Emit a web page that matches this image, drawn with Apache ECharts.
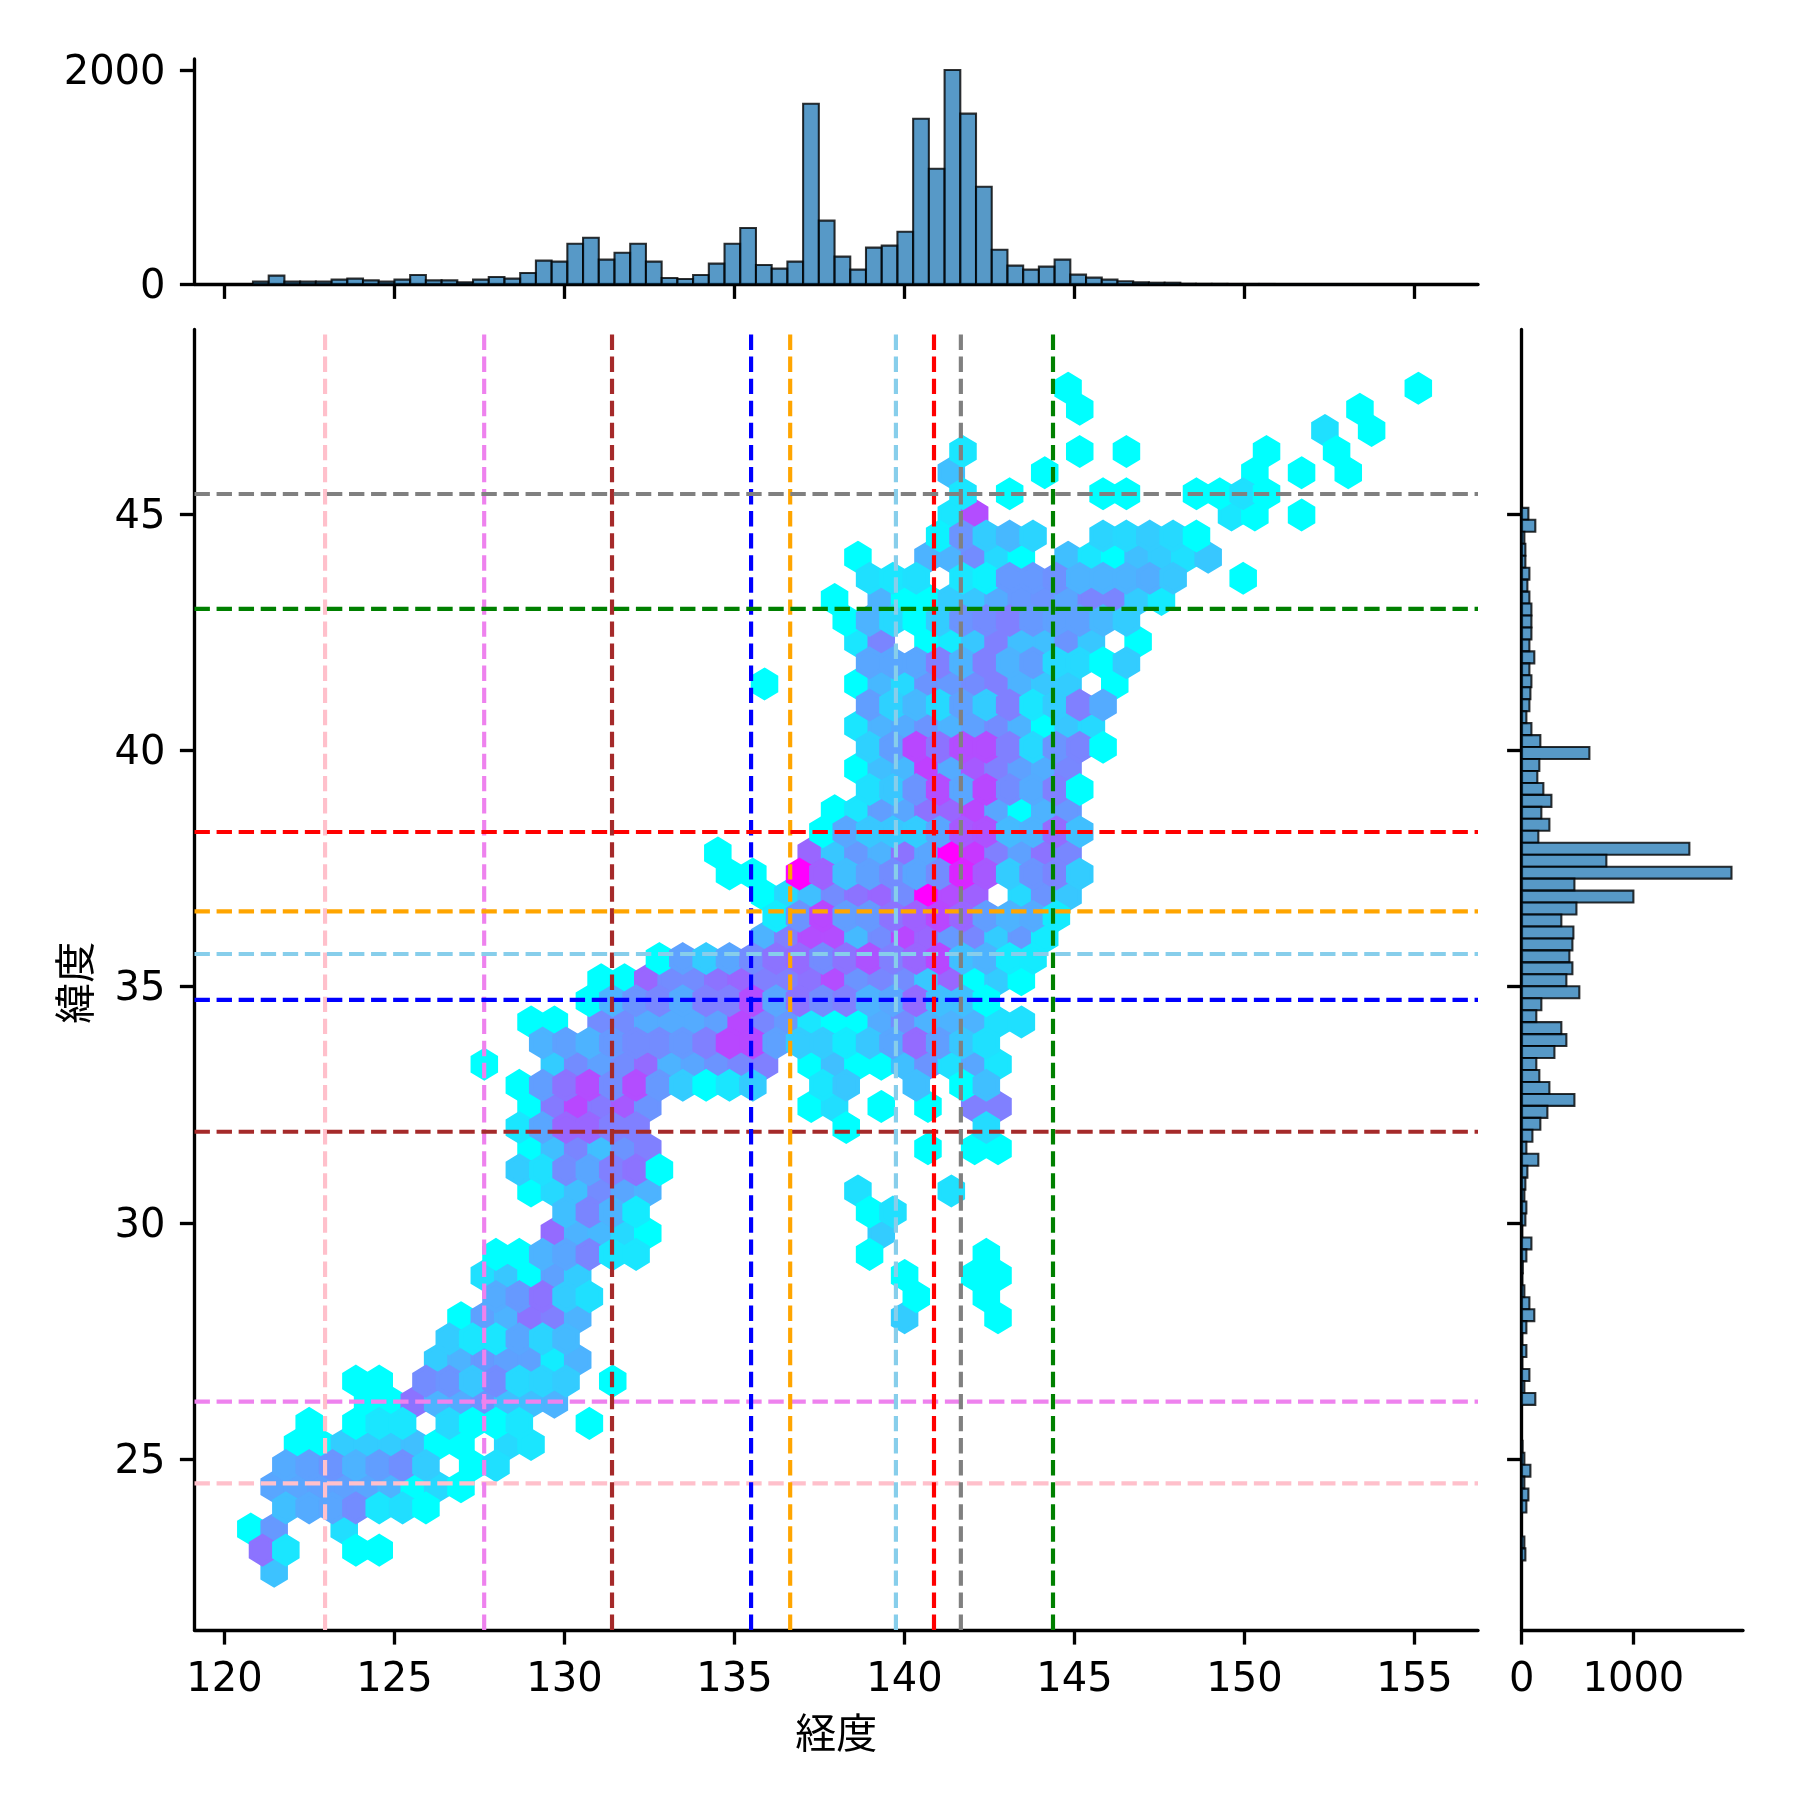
<!DOCTYPE html>
<html>
<head>
<meta charset="utf-8">
<script src="https://cdn.jsdelivr.net/npm/echarts@6/dist/echarts.min.js"></script>
<style>html,body{margin:0;padding:0;background:#fff}#c{width:1800px;height:1800px}</style>
</head>
<body>
<div id="c"></div>
<script>
// Tick values
const lonTicks = [120,125,130,135,140,145,150,155];
const latTicks = [25,30,35,40,45];
const topCountTicks = [0,2000];
const rightCountTicks = [0,1000];

// Axis ranges
const lonMin = 119.12, lonMax = 156.87, latMin = 21.39, latMax = 48.9;

// City reference lines
const cityLon = [122.96,127.64,131.4,135.49,136.64,139.75,140.87,141.66,144.37];
const cityLat = [24.49,26.22,31.93,34.72,36.59,35.69,38.27,45.42,42.99];
const cityColor = ['#ffc0cb','#ee82ee','#a52a2a','#0000ff','#ffa500','#87ceeb','#ff0000','#808080','#008000'];

// Marginal histogram of longitude
const lonBinStart = 120.84, lonBinWidth = 0.4623;
const lonCounts = [25,81,25,25,25,44,53,37,25,44,87,37,37,19,44,68,53,106,221,212,379,435,230,295,379,212,59,50,87,193,379,526,180,146,212,1686,594,258,137,342,361,491,1546,1079,2000,1593,911,323,174,137,165,230,90,62,44,28,19,15,15,5,4,4,3,3,3,2,2,2,2,2,2,1,1,1,1];

// Marginal histogram of latitude (top bin first)
const latBinTop = 45.127, latBinWidth = 0.253;
const latCounts = [60,122,24,33,33,69,51,69,87,87,87,69,113,69,87,78,69,42,87,167,606,158,140,194,266,176,248,149,1501,758,1878,472,1000,490,355,463,454,427,454,400,516,176,131,355,400,293,131,158,248,472,230,167,96,42,149,51,33,24,42,33,5,87,42,10,6,24,69,113,42,6,42,6,69,24,122,0,0,0,8,24,78,24,60,42,0,0,24,33];

// Hexagon lattice
const hexLon0 = 120.0897, hexDx = 0.68676, hexLat0 = 47.659, hexDy = 0.4469;
// one list per lattice row, top row first: [column, colour level 0..1]
const hexRows = [
[[36,0],[51,0]],
[[36,0],[48,0]],
[[47,.12],[49,0]],
[[31,.1],[36,0],[38,0],[44,0],[47,0]],
[[31,.25],[35,0],[44,0],[46,0],[48,0]],
[[31,.1],[33,0],[37,0],[38,0],[41,0],[42,0],[43,.12],[44,0]],
[[31,.1],[32,.7],[43,.1],[44,0],[46,0]],
[[30,.05],[31,.42],[32,.2],[33,.28],[34,.17],[37,.17],[38,.15],[39,.2],[40,.15],[41,0]],
[[27,0],[30,.3],[31,.3],[32,.45],[33,.15],[34,0],[36,.25],[37,.1],[38,0],[39,.25],[40,.2],[41,.12],[42,.22]],
[[27,.12],[28,.1],[29,.12],[31,.1],[32,.05],[33,.4],[34,.4],[35,.43],[36,.3],[37,.3],[38,.3],[39,.32],[40,.22],[43,0]],
[[26,0],[28,.3],[29,0],[30,0],[31,.2],[32,.22],[33,.33],[34,.4],[35,.42],[36,.35],[37,.48],[38,.48],[39,.2],[40,.08]],
[[26,0],[27,.3],[28,.15],[29,0],[30,.2],[31,.42],[32,.45],[33,.5],[34,.4],[35,.37],[36,.37],[37,.28],[38,.2]],
[[27,.1],[28,.48],[30,0],[31,.08],[32,.22],[33,.5],[34,.25],[35,.25],[36,.42],[37,.22],[39,0]],
[[27,.35],[28,.35],[29,.35],[30,.5],[31,.3],[32,.5],[33,.3],[34,.38],[35,.15],[36,.15],[37,0],[38,.2]],
[[23,0],[27,0],[28,.28],[29,.15],[30,.42],[31,.4],[32,.45],[33,.5],[34,.3],[35,.22],[36,.2],[38,0]],
[[27,.38],[28,.18],[29,.28],[30,.15],[31,.37],[32,.2],[33,.5],[34,.1],[35,.2],[36,.5],[37,.33]],
[[27,.1],[28,.3],[29,.33],[30,.42],[31,.3],[32,.37],[33,.45],[34,.3],[35,0],[36,.22],[37,.15]],
[[27,.18],[28,.38],[29,.72],[30,.55],[31,.7],[32,.7],[33,.5],[34,.15],[35,.42],[36,.48],[37,0]],
[[27,0],[28,.25],[29,.28],[30,.75],[31,.33],[32,.65],[33,.5],[34,.37],[35,.32],[36,.47]],
[[27,.12],[28,.22],[29,.42],[30,.7],[31,.35],[32,.72],[33,.45],[34,.33],[35,.5],[36,0]],
[[26,0],[27,.1],[28,.38],[29,.35],[30,.55],[31,.6],[32,.72],[33,.35],[34,0],[35,.3],[36,.4]],
[[25,0],[26,.35],[27,.22],[28,.22],[29,.2],[30,.35],[31,.65],[32,.68],[33,.27],[34,.3],[35,.58],[36,.25]],
[[21,0],[25,.6],[26,.22],[27,.4],[28,.3],[29,.55],[30,.35],[31,1],[32,.78],[33,.5],[34,.37],[35,.55],[36,.47]],
[[21,0],[22,0],[24,1],[25,.62],[26,.25],[27,.37],[28,.45],[29,.35],[30,.45],[31,.85],[32,.65],[33,.2],[34,.42],[35,.48],[36,.2]],
[[23,0],[24,.15],[25,.25],[26,.45],[27,.55],[28,.6],[29,.45],[30,1],[31,.7],[32,.62],[34,.15],[35,.42],[36,.22]],
[[23,.08],[24,.42],[25,.72],[26,.38],[27,.4],[28,.55],[29,.62],[30,.72],[31,.6],[32,.38],[33,.3],[34,.33],[35,.08]],
[[23,.3],[24,.5],[25,.7],[26,.7],[27,.27],[28,.45],[29,.72],[30,.6],[31,.4],[32,.47],[33,.2],[34,.4],[35,.08]],
[[18,0],[19,.37],[20,.2],[21,.35],[22,.45],[23,.55],[24,.58],[25,.45],[26,.55],[27,.68],[28,.5],[29,.6],[30,.72],[31,.25],[32,.3],[33,.08],[34,.08]],
[[16,0],[17,0],[18,.6],[19,.45],[20,.45],[21,.55],[22,.6],[23,.5],[24,.5],[25,.55],[26,.7],[27,.42],[28,.47],[29,.45],[30,.22],[31,.6],[32,0],[33,.2],[34,0]],
[[15,0],[16,.3],[17,.42],[18,.47],[19,.33],[20,.5],[21,.5],[22,.7],[23,.35],[24,.55],[25,.45],[26,.5],[27,.3],[28,.35],[29,.58],[30,.25],[31,.25],[32,0]],
[[13,0],[14,0],[16,.45],[17,.45],[18,.33],[19,.33],[20,.33],[21,.37],[22,.72],[23,.47],[24,.4],[25,.1],[26,0],[27,0],[28,.33],[29,.45],[30,.3],[31,.3],[32,.3],[33,.12],[34,.12]],
[[13,.3],[14,.37],[15,.3],[16,.4],[17,.45],[18,.45],[19,.4],[20,.5],[21,.72],[22,.72],[23,.37],[24,.2],[25,.2],[26,.08],[27,.22],[28,.35],[29,.58],[30,.38],[31,.22],[32,.12]],
[[11,0],[14,.2],[15,.45],[16,.37],[17,.45],[18,.58],[19,.3],[20,.35],[21,.42],[22,.47],[23,.5],[25,0],[26,.25],[27,0],[28,0],[29,.25],[30,.42],[31,.12],[32,.35],[33,.1]],
[[12,0],[13,.38],[14,.55],[15,.7],[16,.45],[17,.7],[18,.4],[19,.2],[20,0],[21,.1],[22,.2],[25,.1],[26,.22],[29,.25],[31,0],[32,.25]],
[[13,0],[14,.52],[15,.72],[16,.52],[17,.65],[18,.42],[25,0],[26,.13],[28,0],[30,0],[32,.5],[33,.5]],
[[12,.1],[13,.35],[14,.6],[15,.6],[16,.5],[17,.5],[26,0],[32,.14]],
[[13,0],[14,.25],[15,.48],[16,.25],[17,.42],[18,.5],[30,0],[32,0],[33,0]],
[[12,.2],[13,.12],[14,.45],[15,.35],[16,.5],[17,.55],[18,0]],
[[13,0],[14,.15],[15,.25],[16,.45],[17,.35],[18,.3],[27,.12],[31,.12]],
[[14,.25],[15,.48],[16,.3],[17,.08],[27,0],[28,.12]],
[[14,.58],[15,.3],[16,.28],[17,.15],[18,0],[28,.2]],
[[11,0],[12,0],[13,.3],[14,.35],[15,.48],[16,.1],[17,.1],[27,0],[32,0]],
[[11,.12],[12,.22],[13,0],[14,.37],[15,.2],[29,0],[32,0],[33,0]],
[[11,.33],[12,.4],[13,.55],[14,.2],[15,.12],[29,0],[32,0]],
[[10,0],[11,.37],[12,.3],[13,.55],[14,.5],[15,.3],[29,.2],[33,0]],
[[9,.2],[10,.1],[11,.1],[12,.35],[13,.17],[14,.27]],
[[9,.2],[10,.3],[11,.4],[12,.37],[13,.37],[14,.07],[15,.3]],
[[5,0],[6,0],[8,.45],[9,.42],[10,.22],[11,.45],[12,.15],[13,.17],[14,.2],[16,0]],
[[6,0],[7,0],[8,.55],[9,.3],[10,.33],[11,.42],[12,.25],[13,.25],[14,.3]],
[[3,0],[5,0],[6,.1],[7,.1],[9,.15],[10,0],[11,0],[12,.1],[15,0]],
[[3,0],[4,0],[5,.2],[6,.2],[7,.2],[8,.25],[9,0],[10,0],[12,.15],[13,.1]],
[[2,.33],[3,.37],[4,.42],[5,.3],[6,.38],[7,.44],[8,.2],[10,0],[11,.12]],
[[2,.35],[3,.35],[4,.37],[5,.37],[6,.35],[7,.3],[8,0],[9,.15],[10,0]],
[[2,.25],[3,.33],[4,.35],[5,.45],[6,.1],[7,.13],[8,0]],
[[1,0],[2,.4],[5,.13]],
[[1,.55],[2,.1],[5,0],[6,0]],
[[2,.24]]
];

const FONT = '"Noto Sans CJK JP"';
const TICKFONT = '"DejaVu Sans"';
const FS = 41, TFS = 40, LW = 3.33, TICK = 14.6;

// Flatten the lattice: first lattice before the second, each by column then from bottom to top
const hexData = [];
hexRows.forEach((row, k) => row.forEach(([j, t]) => {
  hexData.push({ k, j, v: [hexLon0 + hexDx * (j + (k % 2 ? 0.5 : 0)), hexLat0 - hexDy * k, t] });
}));
hexData.sort((a, b) => (a.k % 2) - (b.k % 2) || a.j - b.j || b.k - a.k);

function cool(t) {
  return 'rgb(' + Math.round(255 * t) + ',' + Math.round(255 * (1 - t)) + ',255)';
}
function renderHex(params, api) {
  const c = api.coord([api.value(0), api.value(1)]);
  const s = api.size([hexDx, hexDy * 2]);
  const hw = s[0] / 2, h3 = s[1] / 3, h6 = s[1] / 6;
  const col = cool(api.value(2));
  return {
    type: 'polygon',
    shape: { points: [[c[0], c[1] - h3], [c[0] + hw, c[1] - h6], [c[0] + hw, c[1] + h6], [c[0], c[1] + h3], [c[0] - hw, c[1] + h6], [c[0] - hw, c[1] - h6]] },
    style: { fill: col, stroke: col, lineWidth: 4.17, lineJoin: 'miter' }
  };
}
const barStyle = { fill: 'rgba(31,119,180,0.75)', stroke: 'rgba(0,0,0,0.8)', lineWidth: 2.08 };
function renderTopBar(params, api) {
  const a = api.coord([api.value(0), api.value(2)]);
  const b = api.coord([api.value(1), 0]);
  return { type: 'rect', shape: { x: a[0], y: a[1], width: b[0] - a[0], height: b[1] - a[1] }, style: barStyle };
}
function renderRightBar(params, api) {
  const a = api.coord([0, api.value(0)]);
  const b = api.coord([api.value(2), api.value(1)]);
  return { type: 'rect', shape: { x: a[0], y: a[1], width: b[0] - a[0], height: b[1] - a[1] }, style: barStyle };
}

const lineAx = { show: true, onZero: false, lineStyle: { color: '#000', width: LW } };
const tickAx = vals => ({ show: true, length: TICK, customValues: vals, lineStyle: { color: '#000', width: LW } });
const labelAx = (vals, margin) => ({ show: true, customValues: vals, margin, color: '#000', fontFamily: TICKFONT, fontSize: TFS, hideOverlap: false, formatter: v => String(v) });
// y labels sit slightly below their tick, via a rich-text style with top padding
const labelAxY = (vals, margin) => ({ show: true, customValues: vals, margin, hideOverlap: false, formatter: v => '{n|' + v + '}',
  rich: { n: { color: '#000', fontFamily: TICKFONT, fontSize: TFS, padding: [7, 0, 0, 0] } } });

const G = { mainL: 194.5, mainR: 1478, mainT: 329.5, mainB: 1630, topT: 59, topB: 284.3, rightL: 1521.7, rightR: 1743 };

const series = [
  { type: 'custom', xAxisIndex: 0, yAxisIndex: 0, renderItem: renderHex, clip: false, silent: true, animation: false, progressive: 0,
    encode: { x: 0, y: 1 }, data: hexData.map(d => d.v) },
  { type: 'custom', xAxisIndex: 1, yAxisIndex: 1, renderItem: renderTopBar, silent: true, animation: false, progressive: 0,
    encode: { x: [0, 1], y: 2 }, data: lonCounts.map((c, i) => [lonBinStart + i * lonBinWidth, lonBinStart + (i + 1) * lonBinWidth, c]) },
  { type: 'custom', xAxisIndex: 2, yAxisIndex: 2, renderItem: renderRightBar, silent: true, animation: false, progressive: 0,
    encode: { y: [0, 1], x: 2 }, data: latCounts.map((c, i) => [latBinTop - i * latBinWidth, latBinTop - (i + 1) * latBinWidth, c]).filter(d => d[2] > 0) }
];
const dash = { width: 4.17, type: [15.4, 6.67], cap: 'butt' };
cityLon.forEach((lon, i) => {
  series.push({ type: 'line', xAxisIndex: 0, yAxisIndex: 0, symbol: 'none', silent: true, animation: false, z: 5,
    lineStyle: Object.assign({ color: cityColor[i] }, dash), data: [[lon, latMin], [lon, latMax]] });
  series.push({ type: 'line', xAxisIndex: 0, yAxisIndex: 0, symbol: 'none', silent: true, animation: false, z: 5,
    lineStyle: Object.assign({ color: cityColor[i] }, dash), data: [[lonMin, cityLat[i]], [lonMax, cityLat[i]]] });
});

const chart = echarts.init(document.getElementById('c'), null, { renderer: 'canvas', width: 1800, height: 1800 });
chart.setOption({
  backgroundColor: '#fff',
  animation: false,
  grid: [
    { left: G.mainL, top: G.mainT, width: G.mainR - G.mainL, height: G.mainB - G.mainT },
    { left: G.mainL, top: G.topT, width: G.mainR - G.mainL, height: G.topB - G.topT },
    { left: G.rightL, top: G.mainT, width: G.rightR - G.rightL, height: G.mainB - G.mainT }
  ],
  xAxis: [
    { gridIndex: 0, type: 'value', min: lonMin, max: lonMax, position: 'bottom', splitLine: { show: false },
      axisLine: lineAx, axisTick: tickAx(lonTicks), axisLabel: labelAx(lonTicks, 31),
      name: '経度', nameLocation: 'middle', nameGap: 82, nameTextStyle: { color: '#000', fontFamily: FONT, fontSize: FS } },
    { gridIndex: 1, type: 'value', min: lonMin, max: lonMax, position: 'bottom', splitLine: { show: false },
      axisLine: lineAx, axisTick: tickAx(lonTicks), axisLabel: { show: false } },
    { gridIndex: 2, type: 'value', min: 0, max: 1981, position: 'bottom', splitLine: { show: false },
      axisLine: lineAx, axisTick: tickAx(rightCountTicks), axisLabel: labelAx(rightCountTicks, 31) }
  ],
  yAxis: [
    { gridIndex: 0, type: 'value', min: latMin, max: latMax, position: 'left', splitLine: { show: false },
      axisLine: lineAx, axisTick: tickAx(latTicks), axisLabel: labelAxY(latTicks, 29),
      name: '緯度', nameLocation: 'middle', nameRotate: 90, nameGap: 100, nameTextStyle: { color: '#000', fontFamily: FONT, fontSize: FS, padding: [0, 6, 0, 0] } },
    { gridIndex: 1, type: 'value', min: 0, max: 2103, position: 'left', splitLine: { show: false },
      axisLine: lineAx, axisTick: tickAx(topCountTicks), axisLabel: labelAxY(topCountTicks, 29) },
    { gridIndex: 2, type: 'value', min: latMin, max: latMax, position: 'left', splitLine: { show: false },
      axisLine: lineAx, axisTick: tickAx(latTicks), axisLabel: { show: false } }
  ],
  series
});
</script>
</body>
</html>
